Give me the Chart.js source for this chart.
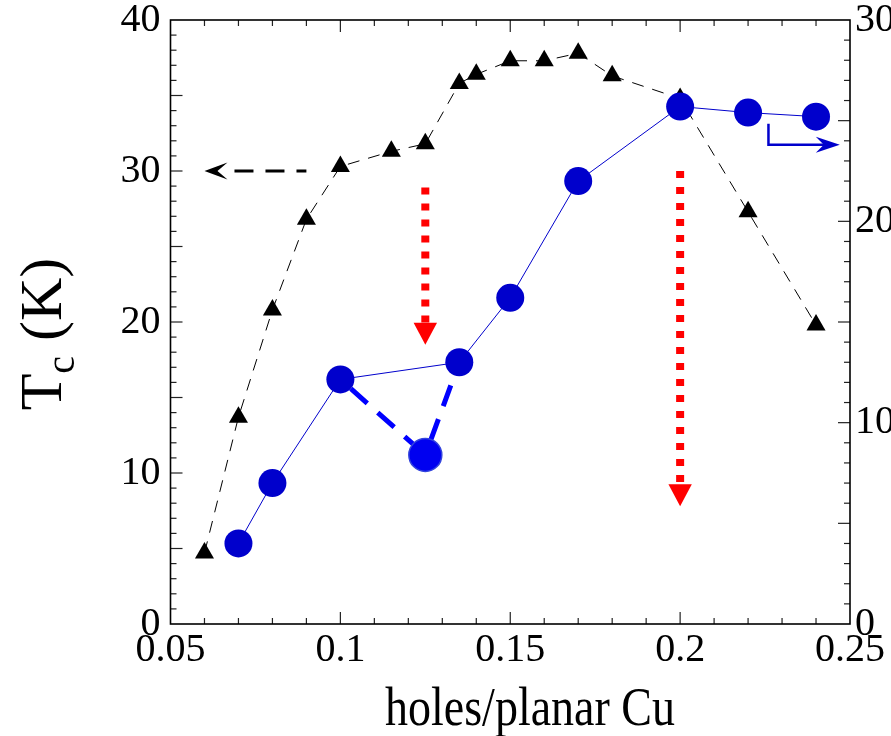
<!DOCTYPE html>
<html>
<head>
<meta charset="utf-8">
<script src="https://cdn.jsdelivr.net/npm/chart.js@4.4.1/dist/chart.umd.min.js"></script>
<style>
  html, body { margin: 0; padding: 0; background: #fff; }
  canvas { display: block; }
</style>
</head>
<body>
<canvas id="chart" width="891" height="736"></canvas>
<script>
// Tc (left axis) - black triangles
const triangleDoping = [0.06, 0.07, 0.08, 0.09, 0.10, 0.115, 0.125, 0.135, 0.14, 0.15, 0.16, 0.17, 0.18, 0.20, 0.22, 0.24];
const triangleTc = [4.7, 13.7, 20.8, 26.8, 30.3, 31.3, 31.8, 35.8, 36.4, 37.3, 37.3, 37.8, 36.3, 34.8, 27.3, 19.8];

// right axis - blue circles
const circleDoping = [0.07, 0.08, 0.10, 0.135, 0.15, 0.17, 0.20, 0.22, 0.24];
const circleValue = [4.0, 7.0, 12.15, 13.0, 16.2, 22.0, 25.7, 25.4, 25.2];

// the dip at 1/8 doping (thick dashed)
const dipDoping = [0.10, 0.125, 0.135];
const dipValue = [12.15, 8.4, 13.0];

// tick labels
const xTickValues = [0.05, 0.1, 0.15, 0.2, 0.25];
const leftTickValues = [0, 10, 20, 30, 40];
const rightTickValues = [0, 10, 20, 30];

// arrows, in data units
const leftArrow = { fromX: 0.09, toX: 0.06, y: 30 };          // left axis
const rightArrow = { x: 0.226, fromY: 24.85, y: 23.8, toX: 0.247 }; // right axis
const redArrowX = [0.125, 0.2];
const redArrowFrom = [28.9, 30.0];
const redArrowTo = [18.5, 7.8];

const xTitle = 'holes/planar Cu';
const yTitleMain = 'T';
const yTitleSub = 'c';
const yTitleRest = ' (K)';

const SERIF = '"Liberation Serif", "Times New Roman", serif';

function pts(xs, ys) {
  return xs.map((x, i) => ({ x: x, y: ys[i] }));
}

function notchedHead(ctx, tx, ty, dx, dy, len, half, notch) {
  const nx = -dy, ny = dx;
  ctx.beginPath();
  ctx.moveTo(tx, ty);
  ctx.lineTo(tx - len * dx + half * nx, ty - len * dy + half * ny);
  ctx.lineTo(tx - (len - notch) * dx, ty - (len - notch) * dy);
  ctx.lineTo(tx - len * dx - half * nx, ty - len * dy - half * ny);
  ctx.closePath();
  ctx.fill();
}

const decorations = {
  id: 'decorations',
  beforeDatasetsDraw(chart) {
    const { ctx, chartArea: a, scales } = chart;
    ctx.save();
    ctx.strokeStyle = '#222';
    ctx.lineWidth = 1.2;
    // inward ticks - x (bottom and top)
    for (let i = 1; i < 20; i++) {
      const px = scales.x.getPixelForValue(0.05 + i * 0.01);
      const len = i % 5 === 0 ? 12 : 6;
      ctx.beginPath();
      ctx.moveTo(px, a.bottom); ctx.lineTo(px, a.bottom - len);
      ctx.moveTo(px, a.top); ctx.lineTo(px, a.top + len);
      ctx.stroke();
    }
    // left
    for (let i = 1; i < 40; i++) {
      const py = scales.y.getPixelForValue(i);
      const len = i % 5 === 0 ? 12 : 6;
      ctx.beginPath();
      ctx.moveTo(a.left, py); ctx.lineTo(a.left + len, py);
      ctx.stroke();
    }
    // right
    for (let i = 1; i < 30; i++) {
      const py = scales.y2.getPixelForValue(i);
      const len = i % 5 === 0 ? 12 : 6;
      ctx.beginPath();
      ctx.moveTo(a.right, py); ctx.lineTo(a.right - len, py);
      ctx.stroke();
    }
    ctx.strokeStyle = '#000';
    ctx.lineWidth = 1.6;
    ctx.strokeRect(a.left, a.top, a.right - a.left, a.bottom - a.top);
    ctx.restore();
  },
  afterDatasetsDraw(chart) {
    const { ctx, scales } = chart;
    const x = scales.x, y = scales.y, y2 = scales.y2;
    ctx.save();

    // black dashed arrow pointing to left axis
    const ly = y.getPixelForValue(leftArrow.y);
    const tip = x.getPixelForValue(leftArrow.toX);
    const tail = x.getPixelForValue(leftArrow.fromX);
    ctx.strokeStyle = '#000';
    ctx.fillStyle = '#000';
    ctx.lineWidth = 3;
    ctx.setLineDash([19, 12]);
    ctx.beginPath();
    ctx.moveTo(tip + 30, ly); ctx.lineTo(tail, ly);
    ctx.stroke();
    ctx.setLineDash([]);
    notchedHead(ctx, tip, ly, -1, 0, 23, 8.5, 10);

    // blue L arrow pointing to right axis
    const bx = x.getPixelForValue(rightArrow.x);
    const by0 = y2.getPixelForValue(rightArrow.fromY);
    const by = y2.getPixelForValue(rightArrow.y);
    const btip = x.getPixelForValue(rightArrow.toX);
    ctx.strokeStyle = '#0000CC';
    ctx.fillStyle = '#0000CC';
    ctx.lineWidth = 2.5;
    ctx.beginPath();
    ctx.moveTo(bx, by0); ctx.lineTo(bx, by); ctx.lineTo(btip - 15, by);
    ctx.stroke();
    notchedHead(ctx, btip, by, 1, 0, 24, 8, 8);

    // red dotted arrows
    ctx.strokeStyle = '#FF0000';
    ctx.fillStyle = '#FF0000';
    redArrowX.forEach((v, i) => {
      const px = x.getPixelForValue(v);
      const top = y.getPixelForValue(redArrowFrom[i]);
      const end = y.getPixelForValue(redArrowTo[i]);
      ctx.lineWidth = 8;
      ctx.setLineDash([7, 9]);
      ctx.beginPath();
      ctx.moveTo(px, top); ctx.lineTo(px, end - 22);
      ctx.stroke();
      ctx.setLineDash([]);
      ctx.beginPath();
      ctx.moveTo(px, end);
      ctx.lineTo(px - 11.7, end - 22);
      ctx.lineTo(px + 11.7, end - 22);
      ctx.closePath();
      ctx.fill();
    });

    // axis titles
    ctx.fillStyle = '#000';
    ctx.textBaseline = 'alphabetic';
    ctx.textAlign = 'center';
    ctx.font = '46px ' + SERIF;
    ctx.save();
    ctx.translate(530, 725);
    ctx.scale(1, 1.18);
    ctx.fillText(xTitle, 0, 0);
    ctx.restore();

    ctx.translate(61, 334);
    ctx.rotate(-Math.PI / 2);
    ctx.textAlign = 'left';
    ctx.font = '60px ' + SERIF;
    const wT = ctx.measureText(yTitleMain).width;
    ctx.font = '40px ' + SERIF;
    const wc = ctx.measureText(yTitleSub).width;
    ctx.font = '60px ' + SERIF;
    const wR = ctx.measureText(yTitleRest).width;
    let sx = -(wT + wc + wR) / 2;
    ctx.fillText(yTitleMain, sx, 0);
    sx += wT;
    ctx.font = '40px ' + SERIF;
    ctx.fillText(yTitleSub, sx, 13);
    sx += wc;
    ctx.font = '60px ' + SERIF;
    ctx.fillText(yTitleRest, sx, 0);
    ctx.restore();
  }
};

const tickFont = { family: SERIF, size: 40, lineHeight: 1 };
const fmt = (v) => String(Number(v.toFixed(2)));
// labels may overhang the frame; keep the plot box where the layout padding puts it
const noEdgePad = (s) => { s.paddingTop = 0; s.paddingBottom = 0; };

new Chart(document.getElementById('chart'), {
  type: 'line',
  data: {
    datasets: [
      {
        label: 'circles',
        data: pts(circleDoping, circleValue),
        yAxisID: 'y2',
        borderColor: '#0000CC',
        borderWidth: 1,
        pointRadius: 14,
        pointHoverRadius: 14,
        pointBackgroundColor: '#0000CC',
        pointBorderWidth: 0,
        tension: 0
      },
      {
        label: 'dip marker',
        data: pts(dipDoping.slice(1, 2), dipValue.slice(1, 2)),
        yAxisID: 'y2',
        showLine: false,
        pointRadius: 16.5,
        pointBackgroundColor: '#0000F0',
        pointBorderColor: '#3344DD',
        pointBorderWidth: 1.5
      },
      {
        label: 'dip a',
        data: pts(dipDoping.slice(0, 2), dipValue.slice(0, 2)),
        yAxisID: 'y2',
        borderColor: '#0000FF',
        borderWidth: 5,
        borderDash: [22, 14],
        borderDashOffset: 22,
        pointRadius: 0
      },
      {
        label: 'dip b',
        data: pts(dipDoping.slice(1, 3), dipValue.slice(1, 3)),
        yAxisID: 'y2',
        borderColor: '#0000FF',
        borderWidth: 5,
        borderDash: [22, 14],
        borderDashOffset: 20,
        pointRadius: 0
      },
      {
        label: 'Tc',
        data: pts(triangleDoping, triangleTc),
        yAxisID: 'y',
        borderColor: '#000',
        borderWidth: 1,
        borderDash: [12, 9],
        pointStyle: 'triangle',
        pointRadius: 11,
        pointHoverRadius: 11,
        pointBackgroundColor: '#000',
        pointBorderWidth: 0,
        tension: 0
      }
    ]
  },
  options: {
    responsive: false,
    animation: false,
    events: [],
    layout: { padding: { top: 20, left: 0, right: 0, bottom: 0 } },
    plugins: {
      legend: { display: false },
      tooltip: { enabled: false }
    },
    scales: {
      x: {
        type: 'linear',
        position: 'bottom',
        min: 0.05,
        max: 0.25,
        afterBuildTicks: (s) => { s.ticks = xTickValues.map((v) => ({ value: v })); },
        afterFit: (s) => { s.height = 112; },
        grid: { display: false, drawTicks: false },
        border: { display: false },
        ticks: { font: tickFont, color: '#000', padding: 6, maxRotation: 0, autoSkip: false, callback: fmt }
      },
      y: {
        type: 'linear',
        position: 'left',
        min: 0,
        max: 40,
        afterBuildTicks: (s) => { s.ticks = leftTickValues.map((v) => ({ value: v })); },
        afterFit: (s) => { s.width = 170.5; noEdgePad(s); },
        grid: { display: false, drawTicks: false },
        border: { display: false },
        ticks: { font: tickFont, color: '#000', padding: 10, callback: fmt }
      },
      y2: {
        type: 'linear',
        position: 'right',
        min: 0,
        max: 30,
        afterBuildTicks: (s) => { s.ticks = rightTickValues.map((v) => ({ value: v })); },
        afterFit: (s) => { s.width = 41; noEdgePad(s); },
        grid: { display: false, drawTicks: false },
        border: { display: false },
        ticks: { font: tickFont, color: '#000', padding: 5, callback: fmt }
      }
    }
  },
  plugins: [decorations]
});
</script>
</body>
</html>
